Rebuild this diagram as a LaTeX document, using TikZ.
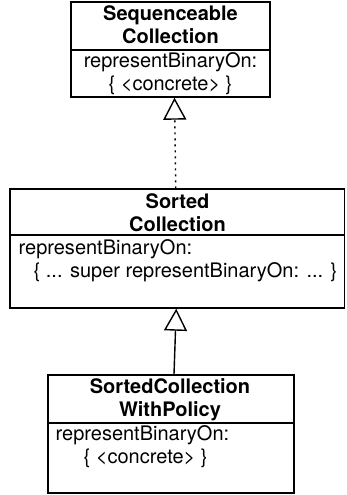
\documentclass[tikz,border=0pt]{standalone}
\usepackage{fontspec}
\setmainfont{TeX Gyre Heros}
\usetikzlibrary{arrows.meta}

\begin{document}
\begin{tikzpicture}[x=1pt, y=-1pt, line width=1.4pt,
    classbox/.style={draw, rectangle, inner sep=0pt},
    classname/.style={font=\fontsize{20}{23}\selectfont\bfseries, align=center, inner sep=0pt, anchor=base},
    classop/.style={font=\fontsize{20}{23}\selectfont, inner sep=0pt},
    inherits/.style={-{Triangle[open, length=22pt, width=23pt]}}]
    \useasboundingbox (0,0) rectangle (346,495);

    % Sequenceable Collection
    \node[classbox, minimum width=199pt, minimum height=95pt] (seq) at (170.5,49.5) {};
    \draw (seq.west |- 0,50) -- (seq.east |- 0,50);
    \node[classname] (seqname) at (170.5,44) {Sequenceable\\Collection};
    \node[classop, align=center, anchor=base] (seqop) at (170.5,90) {representBinaryOn:\\\{ <concrete> \}};

    % Sorted Collection
    \node[classbox, minimum width=334.5pt, minimum height=119pt] (sorted) at (177.25,248.5) {};
    \draw (sorted.west |- 0,235) -- (sorted.east |- 0,235);
    \node[classname] (sortedname) at (177.5,231) {Sorted\\Collection};
    \node[classop, align=left, anchor=base west] (sortedop) at (18,277) {representBinaryOn:\\\hspace*{15pt}\{ ... super representBinaryOn: ... \}};

    % SortedCollection WithPolicy
    \node[classbox, minimum width=246pt, minimum height=118pt] (policy) at (171,434) {};
    \draw (policy.west |- 0,423) -- (policy.east |- 0,423);
    \node[classname] (policyname) at (170,416) {SortedCollection\\WithPolicy};
    \node[classop, align=left, anchor=base west] (policyop) at (55,463) {representBinaryOn:\\\hspace*{28pt}\{ <concrete> \}};

    % generalisations
    \draw[inherits, dash pattern=on 2pt off 4pt] ([xshift=-1.5pt]sorted.north) -- ([xshift=4pt]seq.south);
    \draw[inherits] ([xshift=3pt]policy.north) -- ([xshift=-1pt]sorted.south);
\end{tikzpicture}
\end{document}
